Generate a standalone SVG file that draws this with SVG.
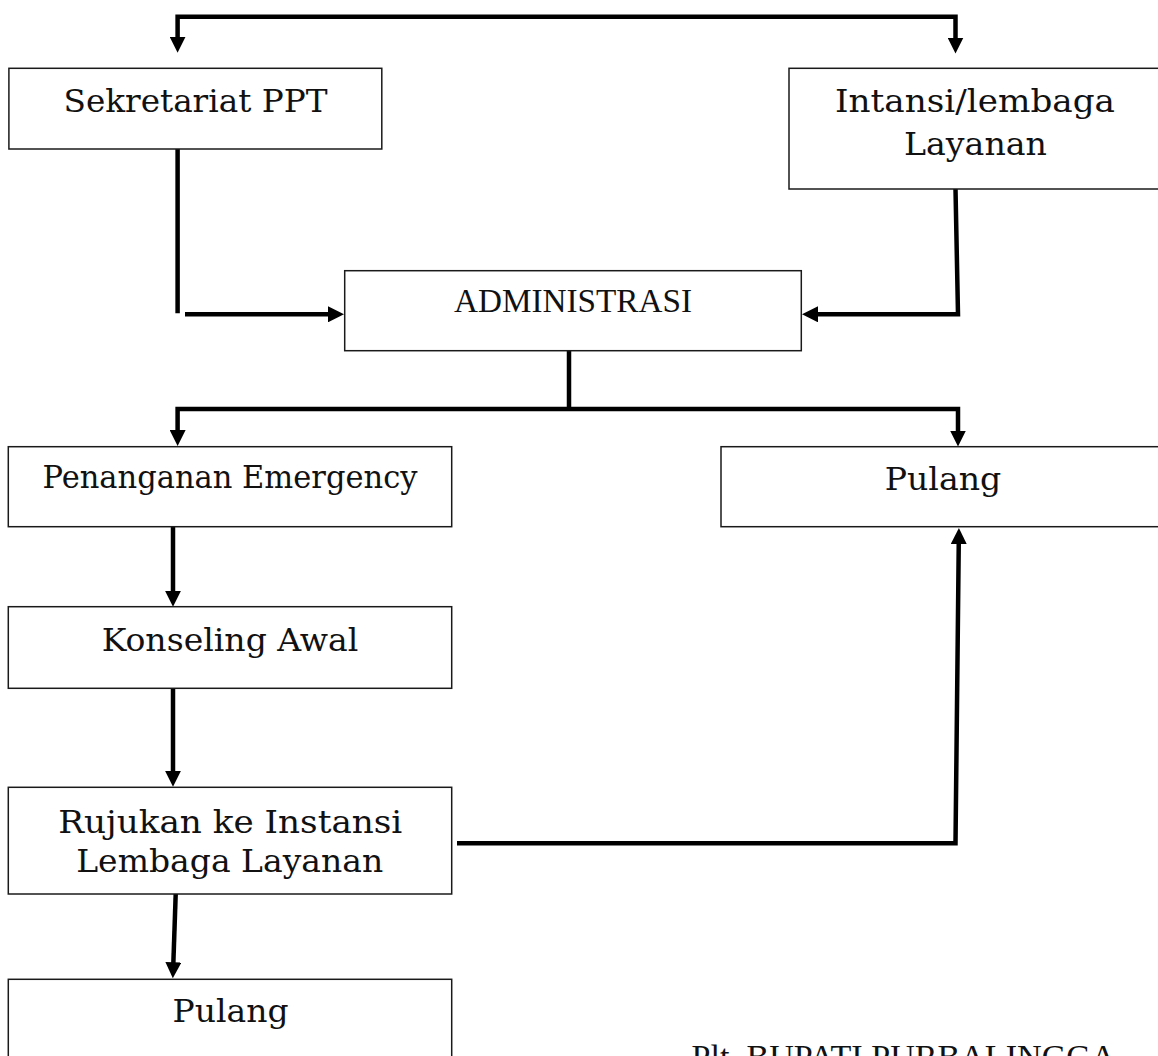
<svg xmlns="http://www.w3.org/2000/svg" width="1158" height="1056" viewBox="0 0 1158 1056">
<style>
  .box { fill: #ffffff; stroke: #1a1a1a; stroke-width: 1.5; }
  .t { font-family: "DejaVu Serif", "Liberation Serif", serif; font-size: 31px; fill: #111; text-anchor: middle; }
  .tr { font-family: "Liberation Serif", "Times New Roman", serif; font-size: 33px; fill: #111; }
  .c { fill: none; stroke: #000; stroke-width: 4.5; stroke-linejoin: miter; }
  .a { marker-end: url(#arr); }
  .aa { marker-start: url(#arr); marker-end: url(#arr); }
</style>
<defs>
  <marker id="arr" markerUnits="userSpaceOnUse" viewBox="0 0 16 16" markerWidth="16" markerHeight="16" refX="5" refY="8" orient="auto-start-reverse">
    <path d="M0,0 L16,8 L0,16 z" fill="#000"/>
  </marker>
</defs>
<rect width="1158" height="1056" fill="#ffffff"/>

<g id="connectors">
  <path class="c aa" d="M177.6,41.7 V16.7 H955.5 V42.5"/>
  <path class="c" d="M177.6,149 V313.3"/>
  <path class="c a" d="M185,314.3 H333"/>
  <path class="c a" d="M955.5,189 L958,314.3 H813"/>
  <path class="c" d="M569,350.7 V409"/>
  <path class="c aa" d="M177.6,435 V409 H958 V435.5"/>
  <path class="c a" d="M173,526.7 V595.7"/>
  <path class="c a" d="M173,669.3 V775.7"/>
  <path class="c a" d="M175.7,894 L173.2,967.3"/>
  <path class="c a" d="M457,843.3 H955.5 L958.8,539"/>
</g>

<g id="sekretariat">
  <rect class="box" x="8.9" y="68.3" width="372.9" height="80.7"/>
  <text class="t" x="195.5" y="111.7" textLength="264" lengthAdjust="spacingAndGlyphs">Sekretariat PPT</text>
</g>

<g id="intansi">
  <rect class="box" x="789" y="68.3" width="372" height="120.7"/>
  <text class="t" x="975" y="111.7" textLength="280" lengthAdjust="spacingAndGlyphs">Intansi/lembaga</text>
  <text class="t" x="975.5" y="155" textLength="143" lengthAdjust="spacingAndGlyphs">Layanan</text>
</g>

<g id="administrasi">
  <rect class="box" x="344.7" y="270.7" width="456.6" height="80"/>
  <text class="tr" x="573" y="311.7" text-anchor="middle" textLength="238" lengthAdjust="spacingAndGlyphs">ADMINISTRASI</text>
</g>

<g id="penanganan">
  <rect class="box" x="8.3" y="446.7" width="443.4" height="80"/>
  <text class="t" x="230" y="487.5" textLength="375" lengthAdjust="spacingAndGlyphs">Penanganan Emergency</text>
</g>

<g id="pulang-kanan">
  <rect class="box" x="721" y="446.7" width="445" height="80"/>
  <text class="t" x="943" y="490" textLength="116.6" lengthAdjust="spacingAndGlyphs">Pulang</text>
</g>

<g id="konseling">
  <rect class="box" x="8.3" y="606.7" width="443.4" height="81.6"/>
  <text class="t" x="230" y="650.7" textLength="256.7" lengthAdjust="spacingAndGlyphs">Konseling Awal</text>
</g>

<g id="rujukan">
  <rect class="box" x="8.3" y="787.3" width="443.4" height="106.7"/>
  <text class="t" x="230.3" y="832.7" textLength="344" lengthAdjust="spacingAndGlyphs">Rujukan ke Instansi</text>
  <text class="t" x="229.7" y="871.7" textLength="307" lengthAdjust="spacingAndGlyphs">Lembaga Layanan</text>
</g>

<g id="pulang-bawah">
  <rect class="box" x="8.3" y="979.3" width="443.4" height="90"/>
  <text class="t" x="230.5" y="1021.7" textLength="116" lengthAdjust="spacingAndGlyphs">Pulang</text>
</g>

<text class="tr" x="691.5" y="1068" textLength="424" lengthAdjust="spacingAndGlyphs">Plt. BUPATI PURBALINGGA</text>
</svg>
